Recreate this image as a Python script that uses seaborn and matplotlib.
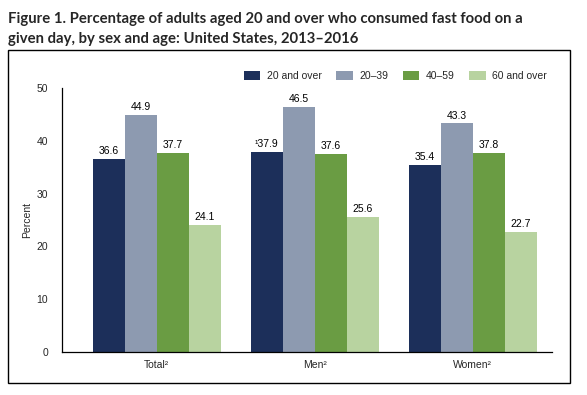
import pandas as pd
import seaborn as sns
import matplotlib.pyplot as plt
from matplotlib.patches import Rectangle

groups = ["Total\u00b2", "Men\u00b2", "Women\u00b2"]
ages = ["20 and over", "20\u201339", "40\u201359", "60 and over"]
total = [36.6, 44.9, 37.7, 24.1]
men = [37.9, 46.5, 37.6, 25.6]
women = [35.4, 43.3, 37.8, 22.7]
colors = ["#1c2f5a", "#8d9ab0", "#6a9c43", "#b8d3a0"]

rows = []
for g, vals in zip(groups, [total, men, women]):
    for a, v in zip(ages, vals):
        rows.append({"group": g, "age": a, "value": v})
df = pd.DataFrame(rows)

sns.set_style("white")
plt.rcParams["font.family"] = ["Liberation Sans", "DejaVu Sans"]

fig = plt.figure(figsize=(5.87, 3.95), dpi=100)
ax = fig.add_axes([0.1056, 0.1089, 0.834, 0.668])

sns.barplot(data=df, x="group", y="value", hue="age", palette=colors,
            width=0.81, saturation=1, ax=ax, errorbar=None, linewidth=0)

# value labels
for i, cont in enumerate(ax.containers):
    labels = []
    for j, v in enumerate([total, men, women]):
        lab = f"{v[i]:.1f}"
        if i == 0 and j == 1:
            lab = "\u00b9" + lab
        labels.append(lab)
    ax.bar_label(cont, labels=labels, padding=2, fontsize=7.5, color="black")

ax.set_ylim(0, 50)
ax.set_xlim(-0.6, 2.5)
ax.set_yticks([0, 10, 20, 30, 40, 50])
ax.tick_params(axis="y", direction="in", length=5, width=0.8, labelsize=7.5, pad=10)
ax.tick_params(axis="x", length=0, labelsize=7.5, pad=6)
ax.set_xlabel("")
ax.set_ylabel("Percent", fontsize=7.5, labelpad=3)
for s in ["top", "right"]:
    ax.spines[s].set_visible(False)
for s in ["left", "bottom"]:
    ax.spines[s].set_color("black")
    ax.spines[s].set_linewidth(0.9)

ax.legend(loc="upper right", bbox_to_anchor=(1.01, 1.10), ncol=4, frameon=False,
          fontsize=7.5, handlelength=1.6, handleheight=0.9, columnspacing=1.35,
          handletextpad=0.65)

fig.text(0.014, 0.943, "Figure 1. Percentage of adults aged 20 and over who consumed fast food on a",
         fontsize=10.7, fontweight="bold", family="Lato")
fig.text(0.014, 0.891, "given day, by sex and age: United States, 2013\u20132016",
         fontsize=10.7, fontweight="bold", family="Lato")

fig.patches.append(Rectangle((8 / 587, 1 - 383 / 395), (570 - 8) / 587, (383 - 50) / 395,
                             transform=fig.transFigure, fill=False,
                             edgecolor="black", linewidth=1.0))

fig.savefig("out.png", dpi=100)
